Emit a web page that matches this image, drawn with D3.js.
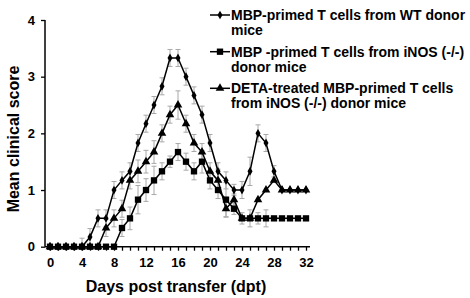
<!DOCTYPE html>
<html>
<head>
<meta charset="utf-8">
<style>
  body { margin: 0; background: #fff; }
  text { font-family: "Liberation Sans", Arial, sans-serif; font-weight: bold; }
</style>
</head>
<body>
<svg width="470" height="298"></svg>
<script src="https://d3js.org/d3.v7.min.js"></script>
<script>
var days = d3.range(0, 33);
var wtScore  = [0,0,0,0,0,0.17,0.5,0.5,1,1.17,1.33,1.83,2.17,2.5,2.83,3.33,3.33,3,2.67,2.33,1.83,1.33,1.17,1,1,1.33,2,1.83,1.33,1,1,1,1];
var wtErr    = [0,0,0,0,0.15,0.15,0.15,0.15,0.15,0.15,0.15,0.15,0.15,0.15,0.15,0.15,0.15,0.15,0.15,0.15,0.15,0.15,0.15,0.1,0.15,0.25,0.15,0.15,0.1,0,0,0,0];
var inosScore = [0,0,0,0,0,0,0,0,0,0.33,0.5,0.83,1,1.17,1.33,1.5,1.67,1.5,1.33,1.5,1.17,1,0.83,0.67,0.5,0.5,0.5,0.5,0.5,0.5,0.5,0.5,0.5];
var inosErr   = [0,0,0,0,0,0,0,0,0,0.15,0.2,0.25,0.2,0.25,0.15,0.1,0.15,0.15,0.15,0.2,0.15,0.15,0.3,0.1,0.1,0.15,0.1,0.15,0,0,0,0,0];
var detaScore = [0,0,0,0,0,0,0,0.33,0.5,0.67,1.17,1.33,1.5,1.67,2,2.33,2.5,2.17,1.83,1.67,1.33,1.17,0.67,0.83,0.5,0.5,0.83,1,1.17,1,1,1,1];
var detaErr   = [0,0,0,0,0,0,0,0.15,0.15,0.15,0.15,0.2,0.2,0.2,0.15,0.15,0.25,0.15,0.15,0.15,0.15,0.2,0.15,0.1,0,0,0,0,0,0,0,0,0];
var legendLines = [
  ["MBP-primed T cells from WT donor", "mice"],
  ["MBP -primed T cells from iNOS (-/-)", "donor mice"],
  ["DETA-treated MBP-primed T cells", "from iNOS (-/-) donor mice"]
];
var xTicks = [0, 4, 8, 12, 16, 20, 24, 28, 32];
var yTicks = [0, 1, 2, 3, 4];

var svg = d3.select("svg");

var x = d3.scaleLinear().domain([0, 32]).range([50, 306]);
var y = d3.scaleLinear().domain([0, 4]).range([246.7, 20]);

var series = [
  {score: wtScore, err: wtErr, shape: d3.symbolDiamond, size: 22},
  {score: inosScore, err: inosErr, shape: d3.symbolSquare, size: 40},
  {score: detaScore, err: detaErr, shape: d3.symbolTriangle, size: 32}
];

// error bars
series.forEach(function(s) {
  var g = svg.append("g").attr("stroke", "#a8a8a8").attr("stroke-width", 1);
  days.forEach(function(d, i) {
    if (!s.err[i]) return;
    var cx = x(d), y1 = y(s.score[i] - s.err[i]), y2 = y(s.score[i] + s.err[i]);
    if (s.score[i] - s.err[i] < 0) y1 = y(0);
    g.append("line").attr("x1", cx).attr("x2", cx).attr("y1", y1).attr("y2", y2);
    g.append("line").attr("x1", cx - 2.5).attr("x2", cx + 2.5).attr("y1", y2).attr("y2", y2);
    g.append("line").attr("x1", cx - 2.5).attr("x2", cx + 2.5).attr("y1", y1).attr("y2", y1);
  });
});

// axes
var xAxis = d3.axisBottom(x).tickValues(days).tickSize(4)
  .tickFormat(function(d) { return xTicks.indexOf(d) >= 0 ? d : ""; });
var gx = svg.append("g").attr("transform", "translate(0," + y(0) + ")").call(xAxis);
gx.select(".domain").attr("d", "M45,0H310");
gx.selectAll("line").attr("stroke", "#000").attr("stroke-width", 1.3);
gx.selectAll("text").attr("font-size", 13).attr("dy", "1.05em").attr("fill", "#000");

var yAxis = d3.axisLeft(y).tickValues(yTicks).tickSize(4).tickFormat(d3.format("d"));
var gy = svg.append("g").attr("transform", "translate(45,0)").call(yAxis);
gy.select(".domain").attr("d", "M0," + y(4) + "V" + y(0));
gy.selectAll("line").attr("stroke", "#000").attr("stroke-width", 1.3);
gy.selectAll("text").attr("font-size", 13).attr("x", -10).attr("fill", "#000");
svg.selectAll(".domain").attr("stroke", "#000").attr("stroke-width", 1.5);

// lines and markers
var line = d3.line().x(function(d, i) { return x(days[i]); }).y(function(d) { return y(d); });
series.forEach(function(s) {
  svg.append("path").datum(s.score).attr("d", line)
    .attr("fill", "none").attr("stroke", "#000").attr("stroke-width", 1.5);
  svg.append("g").selectAll("path").data(s.score).join("path")
    .attr("transform", function(d, i) { return "translate(" + x(days[i]) + "," + y(d) + ")"; })
    .attr("d", d3.symbol().type(s.shape).size(s.size))
    .attr("fill", "#000");
});

// titles
svg.append("text").attr("x", 176).attr("y", 292).attr("text-anchor", "middle")
  .attr("font-size", 16).text("Days post transfer (dpt)");
svg.append("text").attr("transform", "translate(19,139) rotate(-90)").attr("text-anchor", "middle")
  .attr("font-size", 16).text("Mean clinical score");

// legend
var legendY = [15, 51.7, 88.3];
legendLines.forEach(function(txt, i) {
  var g = svg.append("g").attr("transform", "translate(0," + legendY[i] + ")");
  g.append("line").attr("x1", 210).attr("x2", 230).attr("stroke", "#000").attr("stroke-width", 1.5);
  g.append("path").attr("transform", "translate(220,0)")
    .attr("d", d3.symbol().type(series[i].shape).size(series[i].size)).attr("fill", "#000");
  g.append("text").attr("x", 231).attr("y", 5).attr("font-size", 14).text(txt[0]);
  g.append("text").attr("x", 231).attr("y", 20).attr("font-size", 14).text(txt[1]);
});
</script>
</body>
</html>
